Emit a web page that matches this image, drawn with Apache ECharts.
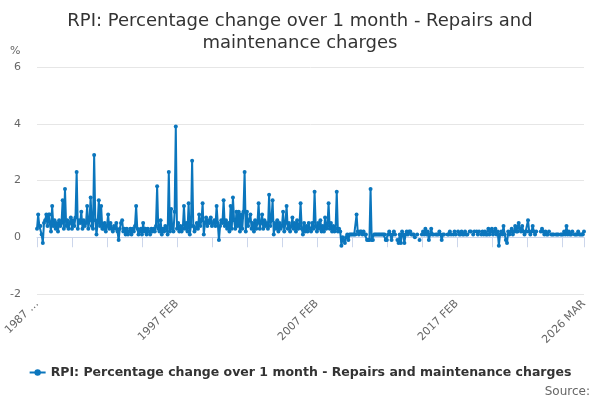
<!DOCTYPE html>
<html>
<head>
<meta charset="utf-8">
<script src="https://cdn.jsdelivr.net/npm/echarts@6/dist/echarts.min.js"></script>
<style>html,body{margin:0;padding:0;background:#fff}#c{width:600px;height:400px}</style>
</head>
<body>
<div id="c"></div>
<script>
const titleText = 'RPI: Percentage change over 1 month - Repairs and\nmaintenance charges';
const seriesName = 'RPI: Percentage change over 1 month - Repairs and maintenance charges';
const yTicks = [-2, 0, 2, 4, 6];
const labelIdx = [0, 120, 240, 360, 469];
const monthNames = ['JAN','FEB','MAR','APR','MAY','JUN','JUL','AUG','SEP','OCT','NOV','DEC'];

// 1987 Feb .. 1996 Dec
const v1987_1996 = [
  0.3,0.8,0.4,0.4,0.1,-0.2,0.5,0.6,0.8,0.4,0.8,
  0.8,0.2,1.1,0.4,0.6,0.3,0.5,0.2,0.6,0.4,0.5,1.3,
  0.3,1.7,0.4,0.6,0.3,0.5,0.7,0.3,0.6,0.4,0.7,2.3,
  0.3,0.6,0.5,0.9,0.3,0.6,0.4,0.5,1.1,0.3,0.6,1.4,
  0.4,0.3,2.9,0.6,0.1,0.5,1.3,0.4,1.1,0.3,0.3,0.5,
  0.2,0.4,0.8,0.3,0.5,0.3,0.2,0.4,0.3,0.5,0.2,-0.1,
  0.3,0.5,0.6,0.2,0.3,0.1,0.3,0.1,0.2,0.3,0.1,0.3,
  0.2,0.4,1.1,0.3,0.1,0.2,0.3,0.1,0.5,0.2,0.3,0.1,
  0.3,0.2,0.1,0.3,0.2,0.3,0.2,0.4,1.8,0.3,0.2,0.6,
  0.1,0.3,0.2,0.4,0.3,0.1,2.3,0.2,1.0,0.3,0.2,0.9
];
// 1997 .. 2006
const v1997_2006 = [
  3.9,0.3,0.5,0.2,0.4,0.2,0.3,1.1,0.3,0.5,0.2,1.2,
  0.1,0.4,2.7,0.4,0.2,0.3,0.5,0.3,0.8,0.4,0.6,1.2,
  0.1,0.5,0.7,0.4,0.6,0.5,0.7,0.4,0.5,0.6,0.4,1.1,
  0.5,-0.1,0.4,0.6,0.5,1.3,0.4,0.6,0.3,0.5,0.2,1.1,
  0.3,1.4,0.6,0.3,0.9,0.4,0.9,0.2,0.8,0.3,0.9,2.3,
  0.2,0.9,0.4,0.6,0.8,0.3,0.5,0.2,0.6,0.3,0.5,1.2,
  0.3,0.5,0.8,0.3,0.6,0.4,0.5,0.3,1.5,0.4,0.6,1.3,
  0.1,0.5,0.3,0.6,0.2,0.5,0.3,0.4,0.9,0.2,0.5,1.1,
  0.3,0.5,0.2,0.4,0.7,0.3,0.5,0.2,0.6,0.3,0.4,1.2,
  0.3,0.1,0.5,0.2,0.4,0.2,0.5,0.3,0.2,0.5,0.3,1.6
];
// 2007 .. 2016
const v2007_2016 = [
  0.4,0.2,0.5,0.3,0.6,0.2,0.4,0.2,0.7,0.3,0.4,1.2,
  0.3,0.5,0.2,0.4,0.2,0.3,1.6,0.2,0.3,0.2,-0.3,0.0,
  -0.1,-0.2,0.0,0.1,-0.1,0.1,0.1,0.1,0.1,0.1,0.1,0.8,
  0.2,0.1,0.2,0.2,0.1,0.2,0.1,0.1,-0.1,-0.1,-0.1,1.7,
  -0.1,-0.1,0.1,0.1,0.1,0.1,0.1,0.1,0.1,0.1,0.1,0.1,
  -0.1,-0.1,0.1,0.2,0.1,-0.1,0.1,0.2,0.1,null,-0.1,-0.2,
  0.1,-0.2,0.2,0.1,-0.2,0.1,0.2,0.1,0.2,0.2,0.1,0.1,
  0.1,0.0,null,0.1,null,-0.1,null,0.1,0.2,0.1,0.3,0.1,
  0.2,-0.1,0.1,0.3,0.1,0.1,null,0.1,0.1,0.1,0.2,0.1,
  -0.1,0.1,0.1,null,null,0.1,0.1,0.2,0.1,null,0.1,0.2
];
// 2017 .. 2026 Mar
const v2017_2026 = [
  0.1,null,0.2,0.1,0.1,0.2,0.1,0.1,0.2,0.1,0.1,null,
  0.2,0.2,null,0.1,0.2,null,0.2,0.1,0.2,null,0.1,0.2,
  0.1,0.2,0.1,0.1,0.3,0.1,0.2,0.3,0.1,0.2,0.3,0.1,
  0.2,-0.3,0.1,0.2,0.1,0.4,0.1,-0.1,-0.2,0.2,0.1,0.2,
  0.3,0.1,0.2,0.4,0.2,0.2,0.5,0.3,0.2,0.4,0.2,0.1,
  0.2,0.2,0.6,0.2,0.1,0.2,0.4,0.2,0.1,0.2,null,null,
  null,0.2,0.3,0.2,0.1,0.2,0.1,0.1,0.2,null,0.1,0.1,
  0.1,null,0.1,0.1,0.1,null,0.1,0.1,0.1,0.2,0.1,0.4,
  0.1,0.2,0.1,0.1,0.2,null,0.1,0.1,0.1,0.2,0.1,0.1,
  0.1,0.1,0.2
];

const values = [].concat(v1987_1996, v1997_2006, v2007_2016, v2017_2026);
const categories = [];
for (let y = 1987, m = 1; categories.length < values.length; ) {
  categories.push(y + ' ' + monthNames[m]);
  m++; if (m === 12) { m = 0; y++; }
}

const font = 'DejaVu Sans';
const chart = echarts.init(document.getElementById('c'), null, {renderer: 'canvas'});
chart.setOption({
  animation: false,
  textStyle: {fontFamily: font},
  title: {
    text: titleText, left: 'center', top: 5,
    textStyle: {fontFamily: font, fontSize: 18, fontWeight: 'normal', color: '#333333', lineHeight: 22}
  },
  grid: {left: 37, right: 16, top: 67, bottom: 106, containLabel: false},
  legend: {
    bottom: 16, left: 'center', itemWidth: 16, itemHeight: 8,
    textStyle: {fontFamily: font, fontSize: 12.5, fontWeight: 'bold', color: '#333333'},
    data: [seriesName]
  },
  graphic: [
    {type: 'text', right: 10, bottom: 2, style: {text: 'Source:', fill: '#666666', font: '12px "DejaVu Sans"'}},
    {type: 'text', left: 10, top: 46, style: {text: '%', fill: '#666666', font: '11px "DejaVu Sans"'}}
  ],
  xAxis: {
    type: 'category', data: categories, boundaryGap: false,
    axisLine: {lineStyle: {color: '#ccd6eb'}},
    axisTick: {show: true, length: 10, lineStyle: {color: '#ccd6eb'},
      interval: (i) => i % 30 === 0 || i === categories.length - 1},
    axisLabel: {
      rotate: 45, color: '#666666', fontSize: 11, fontFamily: font, margin: 8,
      interval: (i) => labelIdx.indexOf(i) >= 0,
      formatter: (v, i) => i === 0 ? v.slice(0, 4) + ' …' : v
    },
    splitLine: {show: false}
  },
  yAxis: {
    type: 'value', min: yTicks[0], max: yTicks[yTicks.length - 1], interval: 2,
    axisLine: {show: false}, axisTick: {show: false},
    axisLabel: {color: '#666666', fontSize: 11, fontFamily: font, margin: 16},
    splitLine: {lineStyle: {color: '#e6e6e6'}}
  },
  series: [{
    name: seriesName, type: 'line', data: values, connectNulls: false,
    symbol: 'circle', symbolSize: 4, showSymbol: true, showAllSymbol: true,
    lineStyle: {color: '#0b76bd', width: 2},
    itemStyle: {color: '#0b76bd'}
  }]
});
</script>
</body>
</html>
